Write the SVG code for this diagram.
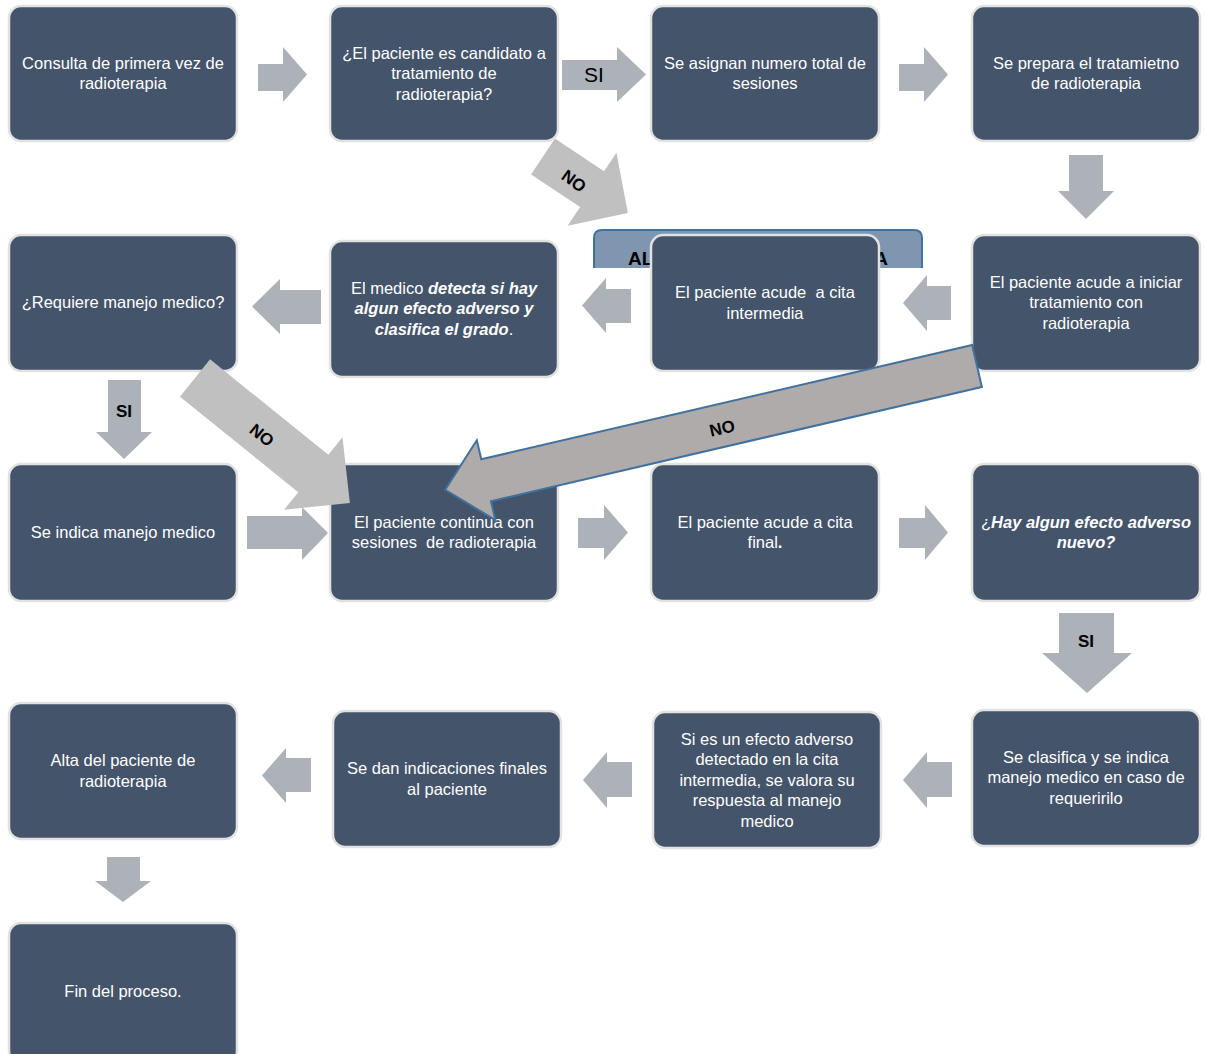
<svg xmlns="http://www.w3.org/2000/svg" width="1205" height="1054" viewBox="0 0 1205 1054">
<style>
.box{fill:#44546a;stroke:#e2e2e2;stroke-width:2.5}
.t{font-family:"Liberation Sans",Arial,sans-serif;font-size:16.5px;fill:#ffffff;text-anchor:middle}
.bi{font-weight:bold;font-style:italic}
.chev{fill:#adb1b8}
.diag{fill:#c0c0c0}
.lbl{font-family:"Liberation Sans",Arial,sans-serif;font-weight:bold;font-size:17px;fill:#000000;text-anchor:middle}
</style>
<rect width="1205" height="1054" fill="#ffffff"/>
<g id="nodes">
<g id="n1"><rect class="box" x="9" y="6" width="228" height="135" rx="12"/><text class="t" x="123" y="69">Consulta de primera vez de</text><text class="t" x="123" y="89">radioterapia</text></g>
<g id="n2"><rect class="box" x="330" y="6" width="228" height="135" rx="12"/><text class="t" x="444" y="59">¿El paciente es candidato a</text><text class="t" x="444" y="79">tratamiento de</text><text class="t" x="444" y="100">radioterapia?</text></g>
<g id="n3"><rect class="box" x="651" y="6" width="228" height="135" rx="12"/><text class="t" x="765" y="69">Se asignan numero total de</text><text class="t" x="765" y="89">sesiones</text></g>
<g id="n4"><rect class="box" x="972" y="6" width="228" height="135" rx="12"/><text class="t" x="1086" y="69">Se prepara el tratamietno</text><text class="t" x="1086" y="89">de radioterapia</text></g>
<g id="alta"><path d="M594,268 V238 Q594,230 602,230 H914 Q922,230 922,238 V268 Z" fill="#7f96b0" stroke="none"/><path d="M594,268 V238 Q594,230 602,230 H914 Q922,230 922,238 V268" fill="none" stroke="#41719c" stroke-width="2"/><text x="628" y="265" font-family="Liberation Sans,Arial,sans-serif" font-weight="bold" font-size="19" fill="#000">AL</text><text x="888" y="265" font-family="Liberation Sans,Arial,sans-serif" font-weight="bold" font-size="19" fill="#000" text-anchor="end">A</text></g>
<g id="n5"><rect class="box" x="9" y="235" width="228" height="136" rx="12"/><text class="t" x="123" y="308">¿Requiere manejo medico?</text></g>
<g id="n6"><rect class="box" x="330" y="241" width="228" height="136" rx="12"/><text class="t" x="444" y="294">El medico <tspan class="bi">detecta si hay</tspan></text><text class="t bi" x="444" y="314">algun efecto adverso y</text><text class="t" x="444" y="335"><tspan class="bi">clasifica el grado</tspan>.</text></g>
<g id="n7"><rect class="box" x="651" y="235" width="228" height="136" rx="12"/><text class="t" x="765" y="298" xml:space="preserve">El paciente acude  a cita</text><text class="t" x="765" y="319">intermedia</text></g>
<g id="n8"><rect class="box" x="972" y="235" width="228" height="136" rx="12"/><text class="t" x="1086" y="288">El paciente acude a iniciar</text><text class="t" x="1086" y="308">tratamiento con</text><text class="t" x="1086" y="329">radioterapia</text></g>
<g id="n9"><rect class="box" x="9" y="464" width="228" height="137" rx="12"/><text class="t" x="123" y="538">Se indica manejo medico</text></g>
<g id="n10"><rect class="box" x="330" y="464" width="228" height="137" rx="12"/><text class="t" x="444" y="528">El paciente continua con</text><text class="t" x="444" y="548" xml:space="preserve">sesiones  de radioterapia</text></g>
<g id="n11"><rect class="box" x="651" y="464" width="228" height="137" rx="12"/><text class="t" x="765" y="528">El paciente acude a cita</text><text class="t" x="765" y="548">final<tspan font-weight="bold">.</tspan></text></g>
<g id="n12"><rect class="box" x="972" y="464" width="228" height="137" rx="12"/><text class="t" x="1086" y="528">¿<tspan class="bi">Hay algun efecto adverso</tspan></text><text class="t bi" x="1086" y="548">nuevo?</text></g>
<g id="n13"><rect class="box" x="9" y="703" width="228" height="136" rx="12"/><text class="t" x="123" y="766">Alta del paciente de</text><text class="t" x="123" y="787">radioterapia</text></g>
<g id="n14"><rect class="box" x="333" y="711" width="228" height="136" rx="12"/><text class="t" x="447" y="774">Se dan indicaciones finales</text><text class="t" x="447" y="795">al paciente</text></g>
<g id="n15"><rect class="box" x="653" y="712" width="228" height="136" rx="12"/><text class="t" x="767" y="745">Si es un efecto adverso</text><text class="t" x="767" y="765">detectado en la cita</text><text class="t" x="767" y="786">intermedia, se valora su</text><text class="t" x="767" y="806">respuesta al manejo</text><text class="t" x="767" y="827">medico</text></g>
<g id="n16"><rect class="box" x="972" y="710" width="228" height="136" rx="12"/><text class="t" x="1086" y="763">Se clasifica y se indica</text><text class="t" x="1086" y="783">manejo medico en caso de</text><text class="t" x="1086" y="804">requeririlo</text></g>
<g id="n17"><rect class="box" x="9" y="923" width="228" height="140" rx="12"/><text class="t" x="123" y="997">Fin del proceso.</text></g>
</g>
<g id="connectors">
<polygon class="chev" points="258,64 283,64 283,47 307,74.5 283,102 283,91 258,91"/>
<polygon class="chev" points="562,60 617,60 617,47 646,74.5 617,102 617,90 562,90"/>
<text x="594" y="82" font-family="Liberation Sans,Arial,sans-serif" font-size="21" fill="#000" text-anchor="middle">SI</text>
<polygon class="chev" points="899,64 924,64 924,47 948,74.5 924,102 924,91 899,91"/>
<polygon class="chev" points="1069,155 1103,155 1103,191 1114,191 1086,219 1058,191 1069,191"/>
<polygon class="chev" points="951,286 927,286 927,275 903,303 927,331 927,320 951,320"/>
<polygon class="chev" points="631,289 606,289 606,278 582,305.5 606,333 606,323 631,323"/>
<polygon class="chev" points="321,290 280,290 280,279 252,306.5 280,334 280,324 321,324"/>
<polygon class="chev" points="108,380 141,380 141,432 152,432 124,459 96,432 108,432"/>
<text class="lbl" x="124" y="417">SI</text>
<polygon class="chev" points="247,516 302,516 302,507 328,533 302,560 302,549 247,549"/>
<polygon class="chev" points="578,518 604,518 604,505 628,532.5 604,560 604,548 578,548"/>
<polygon class="chev" points="899,518 925,518 925,505 948,532.5 925,560 925,548 899,548"/>
<polygon class="chev" points="1059,613 1114,613 1114,653 1132,653 1087,693 1042,653 1059,653"/>
<text class="lbl" x="1086" y="647">SI</text>
<polygon class="chev" points="952,762 927,762 927,752 903,780 927,808 927,797 952,797"/>
<polygon class="chev" points="632,762 607,762 607,752 583,780 607,808 607,797 632,797"/>
<polygon class="chev" points="311,758 286,758 286,748 262,775.5 286,803 286,792 311,792"/>
<polygon class="chev" points="107,857 140,857 140,881 151,881 123,902 95,881 107,881"/>
<g transform="translate(543,156.5) rotate(33.7)"><polygon class="diag" points="0,-21.5 59,-21.5 59,-44 102,0 59,44 59,21.5 0,21.5"/></g>
<text class="lbl" transform="translate(574,181) rotate(36)" y="6">NO</text>
<g transform="translate(195,378) rotate(38.9)"><polygon class="diag" points="0,-24 152,-24 152,-46.5 199,0 152,46.5 152,24 0,24"/></g>
<text class="lbl" transform="translate(262,435) rotate(39)" y="6">NO</text>
<g transform="translate(977,366) rotate(166.9)"><polygon fill="#afabab" stroke="#41719c" stroke-width="2" points="0,-21.5 504,-21.5 504,-41 546,0 504,41 504,21.5 0,21.5"/></g>
<text class="lbl" transform="translate(722,428) rotate(-13)" y="6">NO</text>
</g>
</svg>
